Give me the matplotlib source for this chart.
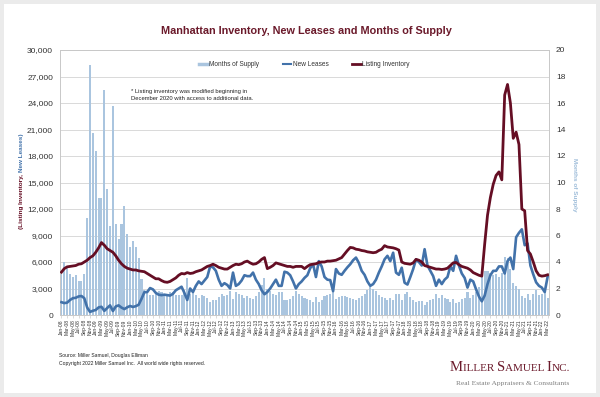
import numpy as np
import pandas as pd
import matplotlib
matplotlib.use('Agg')
import matplotlib.pyplot as plt
from matplotlib.lines import Line2D
from matplotlib.patches import Rectangle

# ---------------- data ----------------
start_month = '2008-01'

listing_inventory = [
    4850, 5250, 5450, 5500, 5550, 5600, 5750, 5800, 6000, 6200, 6500, 6700,
    7100, 7600, 8200, 7900, 7500, 7300, 7100, 6700, 6200, 5800, 5500, 5300,
    5200, 5100, 5100, 5000, 4950, 4900, 4700, 4500, 4300, 4100, 4100, 3900,
    3750, 3700, 3800, 4000, 4200, 4500, 4700, 4650, 4800, 4700, 4750, 4900,
    5000, 5100, 5300, 5500, 5600, 5750, 5600, 5400, 5300, 5200, 5200, 5400,
    5600, 5750, 5700, 5800, 6000, 6100, 5900, 5750, 5800, 6000, 6300, 6500,
    5250, 5400, 5600, 5900, 5800, 5700, 5600, 5500, 5500, 5400, 5500, 5500,
    5500, 5250, 5500, 5700, 5750, 5800, 5950, 6000, 6000, 6100, 6100, 6150,
    6200, 6350, 6500, 6900, 7300, 7650, 7600, 7450, 7400, 7300, 7250, 7150,
    7100, 7050, 7100, 7300, 7450, 7850, 7700, 7650, 7600, 7500, 7350, 6000,
    5850, 5800, 5750, 5900, 6300, 6200, 6000, 5600, 5500, 5400, 5300, 5200,
    5200, 5150, 5200, 5300, 5600, 5900, 5950, 5700, 5500, 5400, 5300, 5100,
    4800, 4650, 4500, 4400, 8000, 11300, 13300, 14800, 15800, 16200, 15300, 24900,
    26100, 24000, 20000, 20700, 19300, 12000, 11800, 7300, 6900, 6000, 5000, 4500,
    4400, 4450, 4550,
]

new_leases = [
    1450, 1350, 1400, 1700, 1900, 1950, 2100, 2150, 1900, 850, 350, 480,
    570, 860, 930, 470, 790, 1090, 450, 970, 1090, 840, 670, 870,
    1020, 910, 1000, 1160, 1830, 2580, 2600, 3050, 2900, 2500, 2300, 2250,
    2300, 2250, 2200, 2400, 2800, 3000, 3200, 2500, 1700, 3000, 2600, 3300,
    3800, 3500, 3900, 4300, 5500, 5400, 5000, 4000, 3300, 3600, 3400, 3000,
    4800, 3300, 3500, 3900, 4500, 4400, 4400, 4800, 4000, 3500, 2800, 2350,
    2600, 3000, 3500, 4000, 3300, 3300, 4900, 4800, 4500, 3800, 3000, 3500,
    3800, 4200, 4500, 5300, 5750, 4300, 6100, 5500, 4300, 4000, 3950, 2700,
    5200, 4700, 4550, 5000, 5400, 5750, 6200, 6500, 5900, 5000, 4550, 3800,
    3300, 3500, 4000, 4800, 5500, 6300, 6700, 6100, 7050, 4800, 4550, 5350,
    3650, 3450, 4300, 5200, 6300, 6000, 5600, 7450, 5600, 5000, 4400, 3300,
    4000, 3500, 4000, 4300, 5500, 5000, 6700, 5600, 4700, 4200, 3100, 4000,
    3800, 2900, 2100, 1550, 2200, 3500, 4500, 5000, 5000, 5500, 5500, 4700,
    6100, 6500, 5200, 8800, 9300, 9700, 7900, 8100, 5600, 4600, 3700, 3300,
    3100, 2600, 4300,
]

months_of_supply = [
    3.1, 4.0, 3.7, 3.1, 2.9, 3.0, 2.6, 2.6, 3.1, 7.3, 18.9, 13.7,
    12.4, 8.8, 8.8, 17.0, 9.5, 6.7, 15.8, 6.9, 5.7, 6.9, 8.2, 6.1,
    5.1, 5.6, 5.1, 4.3, 2.7, 1.9, 1.8, 1.5, 1.5, 1.6, 1.8, 1.7,
    1.6, 1.6, 1.7, 1.7, 1.5, 1.5, 1.5, 1.9, 2.8, 1.6, 1.8, 1.5,
    1.3, 1.5, 1.4, 1.3, 1.0, 1.1, 1.1, 1.35, 1.6, 1.4, 1.5, 1.8,
    1.2, 1.7, 1.6, 1.5, 1.3, 1.4, 1.3, 1.2, 1.45, 1.7, 2.25, 2.8,
    2.0, 1.8, 1.6, 1.5, 1.75, 1.7, 1.15, 1.15, 1.2, 1.4, 1.8, 1.6,
    1.45, 1.25, 1.2, 1.1, 1.0, 1.35, 0.98, 1.1, 1.4, 1.5, 1.55, 2.3,
    1.2, 1.35, 1.4, 1.4, 1.35, 1.3, 1.2, 1.15, 1.25, 1.45, 1.6, 1.9,
    2.15, 2.0, 1.8, 1.5, 1.35, 1.25, 1.15, 1.25, 1.1, 1.55, 1.6, 1.1,
    1.6, 1.7, 1.35, 1.15, 1.0, 1.05, 1.05, 0.75, 1.0, 1.1, 1.2, 1.6,
    1.3, 1.5, 1.3, 1.2, 1.0, 1.2, 0.9, 1.0, 1.2, 1.3, 1.7, 1.25,
    1.5, 1.7, 2.1, 3.4, 3.3, 3.3, 3.2, 3.0, 3.1, 2.9, 3.2, 4.4,
    4.3, 3.5, 2.4, 2.2, 2.0, 1.4, 1.25, 1.6, 1.1, 1.6, 1.9, 1.5,
    1.6, 1.7, 1.3,
]

month_dates = pd.date_range(start_month, periods=len(listing_inventory), freq='MS')
tick_labels = [d.strftime('%b-%y') for d in month_dates]

left_ticks = list(range(0, 30001, 3000))
right_ticks = list(range(0, 21, 2))

series_names = ['Months of Supply', 'New Leases', 'Listing Inventory']
title = 'Manhattan Inventory, New Leases and Months of Supply'
note = '* Listing inventory was modified beginning in\nDecember 2020 with access to additional data.'
source = 'Source: Miller Samuel, Douglas Elliman'
copyright_txt = 'Copyright 2022 Miller Samuel Inc.  All world wide rights reserved.'
logo_parts = [('M', 1), ('ILLER ', 0), ('S', 1), ('AMUEL ', 0), ('I', 1), ('NC.', 0)]
logo_sub = 'Real Estate Appraisers & Consultants'

# ---------------- style ----------------
plt.rcParams['font.family'] = ['Liberation Sans', 'DejaVu Sans']
RED = '#650e24'
BLUE = '#4272aa'
BAR = '#aac5df'
GRID = '#d9d9d9'
TXT = '#333333'

W, H = 600, 397
fig = plt.figure(figsize=(W / 100, H / 100), dpi=100)
fig.patch.set_facecolor('#ebebeb')
fig.add_artist(Rectangle((4 / W, 4 / H), 592 / W, 389 / H, transform=fig.transFigure,
                         facecolor='white', edgecolor='none', zorder=-10))

L, R, T, B = 60, 549, 50, 315
ax = fig.add_axes([L / W, 1 - B / H, (R - L) / W, (B - T) / H])
ax_r = ax.twinx()
ax.set_zorder(ax_r.get_zorder() + 1)
ax.patch.set_visible(False)

x = np.arange(len(listing_inventory))

ax_r.bar(x, months_of_supply, width=0.72, color=BAR, zorder=2)
ax_r.set_ylim(0, 20)
ax_r.set_yticks(right_ticks)
ax_r.set_yticklabels([str(v) for v in right_ticks])
ax_r.set_axisbelow(True)
ax_r.yaxis.grid(True, color=GRID, lw=0.7)
ax_r.tick_params(axis='y', length=0, labelsize=6, pad=5, colors=TXT)
for s in ax_r.spines.values():
    s.set_visible(False)

ax.plot(x, new_leases, color=BLUE, lw=1.9, solid_joinstyle='round', zorder=3)
ax.plot(x, listing_inventory, color=RED, lw=2.0, solid_joinstyle='round', zorder=4)
ax.set_ylim(0, 30000)
ax.set_xlim(-0.5, len(x) - 0.5)
ax.set_yticks(left_ticks)
ax.set_yticklabels([f'{v:,}' for v in left_ticks])
ax.tick_params(axis='y', length=0, labelsize=6, pad=5, colors=TXT)
ax.set_xticks(x[::2])
ax.set_xticklabels(tick_labels[::2], rotation=90, fontsize=3.6, color=TXT)
ax.tick_params(axis='x', length=2, width=0.4, color='#bfbfbf', pad=1)
for name, s in ax.spines.items():
    s.set_color('#c8c8c8')
    s.set_linewidth(0.7)

handles = [Line2D([], [], color=BAR, lw=2.5),
           Line2D([], [], color=BLUE, lw=1.5),
           Line2D([], [], color=RED, lw=2.0)]
ax.legend(handles, series_names, loc='center', bbox_to_anchor=(0.5, (B - 65) / (B - T)),
          ncol=3, frameon=False, fontsize=4.7, handlelength=1.3, handletextpad=0.25,
          columnspacing=3.6, labelcolor=TXT)

fig.text(0.51, 1 - 31 / H, title, ha='center', va='center', fontsize=7.8,
         fontweight='bold', color='#6b1a2b')
fig.text(131 / W, 1 - 95 / H, note, ha='left', va='center', fontsize=4.2,
         color='#222222', linespacing=1.35)

# left axis title (two colours)
yl = 1 - 172 / H
fig.text(22 / W, yl, '(Listing Inventory, ', rotation=90, ha='center', va='top',
         fontsize=4.6, fontweight='bold', color=RED)
fig.text(22 / W, yl, 'New Leases)', rotation=90, ha='center', va='bottom',
         fontsize=4.6, fontweight='bold', color=BLUE)
fig.text(574 / W, 1 - 185 / H, 'Months of Supply', rotation=270, ha='center', va='center',
         fontsize=4.6, fontweight='bold', color='#9dbcd9')

fig.text(59 / W, 1 - 355 / H, source, fontsize=3.6, color='#222222', va='center')
fig.text(59 / W, 1 - 363 / H, copyright_txt, fontsize=3.6, color='#222222', va='center')

# logo in small caps
renderer = fig.canvas.get_renderer()
serif = ['Liberation Serif', 'DejaVu Serif']
sizes = {1: 10.5, 0: 8.0}
widths = []
for txt, big in logo_parts:
    t = fig.text(0, 0, txt, fontsize=sizes[big], family=serif)
    widths.append(t.get_window_extent(renderer).width)
    t.remove()
xpos = 570 - sum(widths)
for (txt, big), w in zip(logo_parts, widths):
    fig.text(xpos / W, 1 - 371 / H, txt, fontsize=sizes[big], family=serif,
             color='#6b1a2b', va='baseline')
    xpos += w
fig.text(569 / W, 1 - 384 / H, logo_sub, ha='right', va='center', fontsize=5.4,
         family=serif, color='#808080')

fig.savefig('out.png', dpi=100, facecolor=fig.get_facecolor())
